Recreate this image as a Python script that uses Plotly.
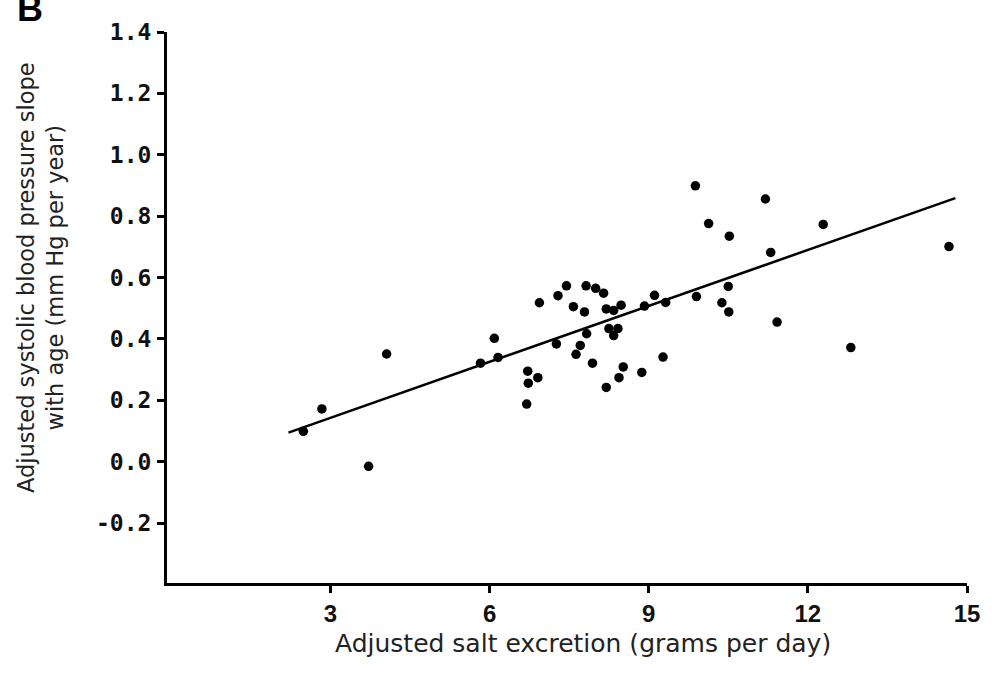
import plotly.graph_objects as go

# Data
salt_x = [2.49, 2.84, 4.06, 3.72,
          5.83, 6.09, 6.16, 6.94, 6.72, 6.73, 6.91, 6.70, 7.29, 7.45, 7.58, 7.79,
          7.82, 8.00, 8.15, 7.26, 7.71, 7.63, 7.83, 7.94, 8.20, 8.34, 8.48, 8.25,
          8.42, 8.34, 8.20, 8.44, 8.52, 8.87, 8.92, 9.11, 9.32, 9.27, 9.90,
          9.88, 11.20, 10.13, 10.52, 12.29, 11.30, 14.66,
          10.50, 10.38, 10.51, 11.42, 12.81]
slope_y = [0.099, 0.172, 0.351, -0.015,
           0.321, 0.402, 0.340, 0.518, 0.295, 0.256, 0.274, 0.188, 0.541, 0.573, 0.505, 0.488,
           0.573, 0.565, 0.549, 0.384, 0.379, 0.350, 0.417, 0.321, 0.498, 0.493, 0.510, 0.434,
           0.434, 0.411, 0.242, 0.274, 0.309, 0.291, 0.507, 0.542, 0.519, 0.341, 0.538,
           0.899, 0.856, 0.776, 0.735, 0.773, 0.682, 0.701,
           0.571, 0.518, 0.488, 0.455, 0.372]

fit_x = [2.21, 14.78]
fit_y = [0.095, 0.859]

x_ticks = [3, 6, 9, 12, 15]
y_ticks = [-0.2, 0.0, 0.2, 0.4, 0.6, 0.8, 1.0, 1.2, 1.4]
y_tick_text = ["-0.2", "0.0", "0.2", "0.4", "0.6", "0.8", "1.0", "1.2", "1.4"]

fig = go.Figure()
fig.add_trace(go.Scatter(x=fit_x, y=fit_y, mode="lines",
                         line=dict(color="black", width=2.5), showlegend=False))
fig.add_trace(go.Scatter(x=salt_x, y=slope_y, mode="markers",
                         marker=dict(color="black", size=9.5), showlegend=False))

fig.update_layout(
    width=992, height=678,
    margin=dict(l=167, r=18, t=32, b=95),
    plot_bgcolor="white", paper_bgcolor="white",
    xaxis=dict(range=[-0.08, 15], tickvals=x_ticks, ticks="outside", ticklen=7,
               tickwidth=2.5, tickcolor="black", showline=True, linewidth=3,
               linecolor="black", showgrid=False, zeroline=False,
               tickfont=dict(family="Liberation Sans", size=24, color="#111", weight="bold"),
               ticklabelstandoff=0),
    yaxis=dict(range=[-0.395, 1.4], tickvals=y_ticks, ticktext=y_tick_text,
               ticks="outside", ticklen=7, tickwidth=2.5, tickcolor="black",
               showline=True, linewidth=3, linecolor="black", showgrid=False,
               zeroline=False,
               tickfont=dict(family="DejaVu Sans Mono", size=23, color="#111", weight="bold"),
               ticklabelstandoff=1),
    annotations=[
        dict(text="Adjusted salt excretion (grams per day)", xref="paper", yref="paper",
             x=0.5205, y=0, yshift=-60, xanchor="center", yanchor="middle", showarrow=False,
             font=dict(family="DejaVu Sans", size=25, color="#222")),
        dict(text="Adjusted systolic blood pressure slope<br>with age (mm Hg per year)",
             xref="paper", yref="paper", x=0, xshift=-127, y=0.5535, textangle=-90,
             xanchor="center", yanchor="middle", showarrow=False,
             font=dict(family="DejaVu Sans", size=22.5, color="#222")),
        dict(text="<b>B</b>", xref="paper", yref="paper", x=0, xshift=-137, y=1,
             yshift=46, xanchor="center", yanchor="top", showarrow=False,
             font=dict(family="Liberation Sans", size=36, color="black")),
    ],
)

fig.write_html("out.html", config={"displayModeBar": False},
               post_script="document.body.style.margin='0';")
